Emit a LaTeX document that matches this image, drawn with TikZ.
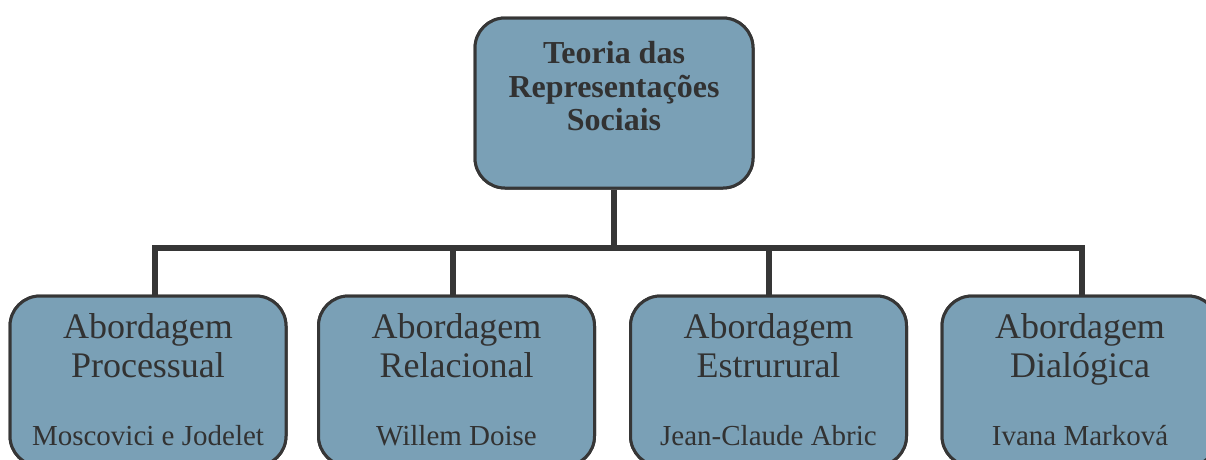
\documentclass[tikz,border=0pt]{standalone}
\usepackage{fontspec}
\setmainfont{Liberation Serif}
\definecolor{boxfill}{RGB}{122,160,182}
\definecolor{linecol}{RGB}{54,54,54}
\definecolor{txtcol}{RGB}{50,50,50}
\tikzset{
  box/.style={draw=linecol, line width=3pt, fill=boxfill, rounded corners=30pt,
              rectangle, inner sep=0pt},
  topbox/.style={box, minimum width=278pt, minimum height=170pt},
  subbox/.style={box, minimum width=276pt, minimum height=170pt},
  conn/.style={draw=linecol, line width=6pt},
  toptxt/.style={anchor=base, inner sep=0pt, text=txtcol, font=\fontsize{32}{34}\selectfont\bfseries},
  headtxt/.style={anchor=base, inner sep=0pt, text=txtcol, font=\fontsize{36}{40}\selectfont},
  nametxt/.style={anchor=base, inner sep=0pt, text=txtcol, font=\fontsize{29}{32}\selectfont},
}
\begin{document}
\begin{tikzpicture}[x=1pt,y=-1pt]
\useasboundingbox (0,0) rectangle (1206,459);
% junction coordinates on the bar
\coordinate (jt) at (614,248);
\coordinate (j1) at (155,248);
\coordinate (j2) at (453,248);
\coordinate (j3) at (769,248);
\coordinate (j4) at (1082,248);
% boxes
\node[topbox] (top) at (614,103) {};
\node[subbox] (b1) at (148,381) {};
\node[subbox] (b2) at (456.5,381) {};
\node[subbox] (b3) at (768.5,381) {};
\node[subbox] (b4) at (1080,381) {};
% connectors
\begin{scope}[on background layer/.style={}]
\draw[conn] (top.south) -- (jt);
\draw[conn, line cap=rect] (j1) -- (j4);
\draw[conn] (j1) -- (j1 |- b1.north);
\draw[conn] (j2) -- (j2 |- b2.north);
\draw[conn] (j3) -- (j3 |- b3.north);
\draw[conn] (j4) -- (j4 |- b4.north);
\end{scope}
% redraw boxes borders on top of connector ends
\node[topbox] at (top) {};
\node[subbox] at (b1) {};
\node[subbox] at (b2) {};
\node[subbox] at (b3) {};
\node[subbox] at (b4) {};
% top texts
\node[toptxt] (t1) at (614,63) {Teoria das};
\node[toptxt] (t2) at (614,97) {Representações};
\node[toptxt] (t3) at (614,130) {Sociais};
% box 1
\node[headtxt] (a1) at (148,338) {Abordagem};
\node[headtxt] (p1) at (148,377) {Processual};
\node[nametxt] (n1) at (148,445) {Moscovici e Jodelet};
% box 2
\node[headtxt] (a2) at (456.5,338) {Abordagem};
\node[headtxt] (p2) at (456.5,377) {Relacional};
\node[nametxt] (n2) at (456.5,445) {Willem Doise};
% box 3
\node[headtxt] (a3) at (768.5,338) {Abordagem};
\node[headtxt] (p3) at (768.5,377) {Estrurural};
\node[nametxt] (n3) at (768.5,445) {Jean-Claude Abric};
% box 4
\node[headtxt] (a4) at (1080,338) {Abordagem};
\node[headtxt] (p4) at (1080,377) {Dialógica};
\node[nametxt] (n4) at (1080,445) {Ivana Marková};
\end{tikzpicture}
\end{document}
